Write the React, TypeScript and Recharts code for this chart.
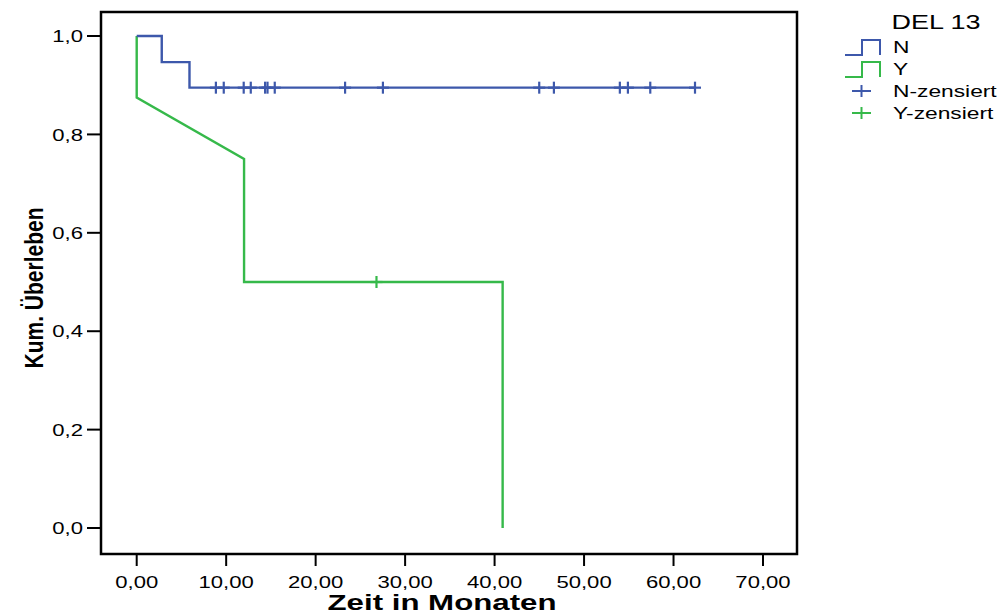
import { ComposedChart, Line, Scatter, XAxis, YAxis, ReferenceArea } from 'recharts';

const xTicks = [0, 10, 20, 30, 40, 50, 60, 70];
const yTicks = [0, 0.2, 0.4, 0.6, 0.8, 1.0];

// DEL 13 = N
const nTime = [0, 2.8, 5.9, 62.4];
const nSurv = [1.0, 0.947, 0.895, 0.895];
const nCensTime = [8.85, 9.73, 11.96, 12.75, 14.35, 14.62, 15.43, 23.29, 27.52, 44.99, 46.63, 54.0, 54.9, 57.4, 62.4];
const nCensSurv = [0.895, 0.895, 0.895, 0.895, 0.895, 0.895, 0.895, 0.895, 0.895, 0.895, 0.895, 0.895, 0.895, 0.895, 0.895];

// DEL 13 = Y
const yTime = [0, 0, 12.0, 12.0, 40.9, 40.9];
const ySurv = [1.0, 0.875, 0.75, 0.5, 0.5, 0.0];
const yCensTime = [26.8];
const yCensSurv = [0.5];

const legendTitle = 'DEL 13';
const legendLabels = ['N', 'Y', 'N-zensiert', 'Y-zensiert'];

const BLUE = '#3d58ab';
const GREEN = '#36b94a';
const FONT = '"Liberation Sans", Arial, sans-serif';

const nData = nTime.map((t, i) => ({ t, s: nSurv[i] }));
const yData = yTime.map((t, i) => ({ t, s: ySurv[i] }));
const nCens = nCensTime.map((t, i) => ({ t, s: nCensSurv[i] }));
const yCens = yCensTime.map((t, i) => ({ t, s: yCensSurv[i] }));

const plus = (color: string) => (props: any) => {
  const { cx, cy } = props;
  return (
    <g stroke={color} strokeWidth={2.2}>
      <line x1={cx - 6} y1={cy} x2={cx + 6} y2={cy} />
      <line x1={cx} y1={cy - 6} x2={cx} y2={cy + 6} />
    </g>
  );
};

const XTick = (props: any) => {
  const { x, y, payload } = props;
  return (
    <text transform={`translate(${x},${y}) scale(1.3,1)`} textAnchor="middle" dy="0.72em"
      fontSize={17} fontFamily={FONT} fill="#000">
      {payload.value.toFixed(2).replace('.', ',')}
    </text>
  );
};

const YTick = (props: any) => {
  const { x, y, payload } = props;
  return (
    <text transform={`translate(${x},${y}) scale(1.3,1)`} textAnchor="end" dy="0.36em"
      fontSize={17} fontFamily={FONT} fill="#000">
      {payload.value.toFixed(1).replace('.', ',')}
    </text>
  );
};

const XLabel = () => (
  <text transform="translate(442,610) scale(1.42,1)" textAnchor="middle" fontSize={22}
    fontWeight="bold" fontFamily={FONT} fill="#000">
    Zeit in Monaten
  </text>
);

const YLabel = () => (
  <text transform="translate(43,288) scale(1.27,1) rotate(-90)" textAnchor="middle" fontSize={21}
    fontWeight="bold" fontFamily={FONT} fill="#000">
    Kum. Überleben
  </text>
);

function LegendBox() {
  const colors = [BLUE, GREEN, BLUE, GREEN];
  return (
    <svg width={169} height={130} style={{ position: 'absolute', left: 830, top: 0 }}>
      <text transform="translate(106,29) scale(1.35,1)" textAnchor="middle" fontSize={20} fontFamily={FONT}>
        {legendTitle}
      </text>
      {legendLabels.map((name, i) => {
        const base = 53 + i * 22;
        const mid = base - 6;
        const c = colors[i];
        return (
          <g key={name}>
            {i < 2 ? (
              <polyline points={`15,${base + 2} 32,${base + 2} 32,${base - 13} 50,${base - 13} 50,${base + 2}`}
                fill="none" stroke={c} strokeWidth={2} />
            ) : (
              <g stroke={c} strokeWidth={2}>
                <line x1={22} y1={mid} x2={41} y2={mid} />
                <line x1={31.5} y1={mid - 6} x2={31.5} y2={mid + 6} />
              </g>
            )}
            <text transform={`translate(63,${base}) scale(1.34,1)`} fontSize={17} fontFamily={FONT}>
              {name}
            </text>
          </g>
        );
      })}
    </svg>
  );
}

export default function App() {
  return (
    <div style={{ position: 'absolute', left: 0, top: 0, width: 999, height: 615, background: '#fff' }}>
      <ComposedChart width={999} height={615} margin={{ top: 12, right: 202, bottom: 0, left: 0 }}>
        <XAxis type="number" dataKey="t" domain={[-3.99, 73.8]} ticks={xTicks} allowDataOverflow
          height={61} axisLine={false} tickSize={12} tickMargin={10}
          tickLine={{ stroke: '#000', strokeWidth: 2 }} tick={<XTick />} label={<XLabel />} />
        <YAxis type="number" dataKey="s" domain={[-0.0528, 1.0488]} ticks={yTicks} allowDataOverflow
          width={101} axisLine={false} tickSize={14} tickMargin={4}
          tickLine={{ stroke: '#000', strokeWidth: 2 }} tick={<YTick />} label={<YLabel />} />
        <Line data={yData} dataKey="s" type="linear" stroke={GREEN} strokeWidth={2.4} dot={false}
          isAnimationActive={false} />
        <Line data={nData} dataKey="s" type="stepAfter" stroke={BLUE} strokeWidth={2.4} dot={false}
          isAnimationActive={false} />
        <Scatter data={nCens} dataKey="s" shape={plus(BLUE)} isAnimationActive={false} />
        <Scatter data={yCens} dataKey="s" shape={plus(GREEN)} isAnimationActive={false} />
        <ReferenceArea x1={-3.99} x2={73.8} y1={-0.0528} y2={1.0488} fill="none" stroke="#000"
          strokeWidth={2.5} ifOverflow="visible" />
      </ComposedChart>
      <LegendBox />
    </div>
  );
}
